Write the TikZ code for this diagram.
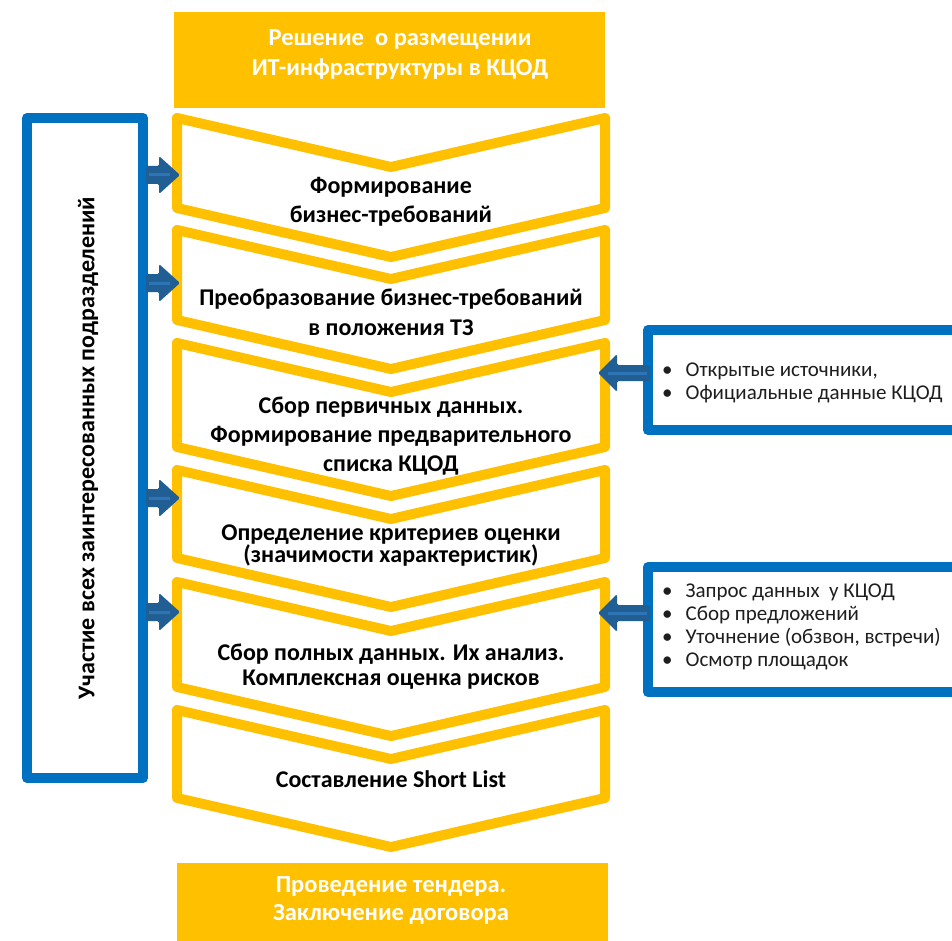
\documentclass[tikz,border=0pt]{standalone}
\usepackage{fontspec}
\setmainfont{Carlito}
\definecolor{yel}{RGB}{255,192,0}
\definecolor{bbox}{RGB}{0,112,192}
\definecolor{barrow}{RGB}{33,94,147}
\definecolor{bstripe}{RGB}{46,117,182}
\definecolor{btext}{RGB}{30,30,30}
\newcommand\chevronshape[2]{%
  \draw[chev] (177,#1) -- (391,{#1+49}) -- (605,#1) -- (605,#2) -- (391,{#2+49}) -- (177,#2) -- cycle;}
% right-pointing block arrow: base x, centre y
\newcommand\arrowR[2]{%
  \fill[blockarrow] (#1,{#2-9}) -- ({#1+13},{#2-9}) -- ({#1+13},{#2-19}) -- ({#1+34},#2) -- ({#1+13},{#2+19}) -- ({#1+13},{#2+9}) -- (#1,{#2+9}) -- cycle;
  \draw[stripe] ({#1+3},#2) -- ({#1+24},#2);}
% left-pointing block arrow: base x, centre y
\newcommand\arrowL[2]{%
  \fill[blockarrow] (#1,{#2-8}) -- ({#1-33},{#2-8}) -- ({#1-33},{#2-19}) -- ({#1-52},#2) -- ({#1-33},{#2+19}) -- ({#1-33},{#2+8}) -- (#1,{#2+8}) -- cycle;
  \draw[stripe] ({#1-3},#2) -- ({#1-42},#2);}
\begin{document}
\begin{tikzpicture}[x=1pt,y=-1pt,
  chev/.style={draw=yel, line width=10pt, fill=white, line join=round},
  lbl/.style={font=\bfseries\fontsize{24}{29}\selectfont, align=center, text=black},
  wlbl/.style={font=\bfseries\fontsize{24.5}{30}\selectfont, align=center, text=white},
  bluebox/.style={draw=bbox, line width=10pt, line join=round, fill=white},
  blockarrow/.style={fill=barrow, rounded corners=1.5pt},
  stripe/.style={draw=bstripe, line width=3pt},
  bullets/.style={font=\fontsize{21}{23}\selectfont, align=left, anchor=west, inner sep=0pt, text=btext},
  yelbox/.style={fill=yel}]
\useasboundingbox (0,0) rectangle (952,941);
\clip (0,0) rectangle (952,941);
\fill[white] (0,0) rectangle (952,941);
% top and bottom boxes
\fill[yelbox] (174,12) rectangle (605,108);
\node[wlbl] (top) at (400,55) {Решение\ \ о размещении\\ИТ-инфраструктуры в КЦОД};
\fill[yelbox] (177,863) rectangle (608,945);
\node[wlbl, font=\bfseries\fontsize{24.5}{28}\selectfont] (bottom) at (391,901) {Проведение тендера.\\Заключение договора};
% chevrons
\chevronshape{118}{208}
\chevronshape{230}{320}
\chevronshape{343}{447}
\chevronshape{470}{558}
\chevronshape{582}{687}
\chevronshape{710}{798}
\node[lbl] (s1) at (391,202) {Формирование\\бизнес-требований};
\node[lbl, font=\bfseries\fontsize{24}{30}\selectfont] (s2) at (391,312) {Преобразование бизнес-требований\\в положения ТЗ};
\node[lbl] (s3) at (391,436) {Сбор первичных данных.\\Формирование предварительного\\списка КЦОД};
\node[lbl, font=\bfseries\fontsize{24}{22}\selectfont] (s4) at (391,546) {Определение критериев оценки\\(значимости характеристик)};
\node[lbl, font=\bfseries\fontsize{24}{25}\selectfont] (s5) at (391,667) {Сбор полных данных. Их анализ.\\Комплексная оценка рисков};
\node[lbl] (s6) at (391,779) {Составление Short List};
% left box
\draw[bluebox] (27,118) rectangle (143,778);
\node[rotate=90, font=\bfseries\fontsize{24}{28}\selectfont] (side) at (88,448) {Участие всех заинтересованных подразделений};
\arrowR{146}{175}
\arrowR{146}{283}
\arrowR{146}{498}
\arrowR{146}{612}
% right boxes
\draw[bluebox] (648,330) rectangle (975,430);
\node[bullets] (r1) at (662,383) {\begin{tabular}{@{}l@{\hspace{13pt}}l@{}}\textbullet & Открытые источники,\\ \textbullet & Официальные данные КЦОД\end{tabular}};
\arrowL{650}{373}
\draw[bluebox] (648,567) rectangle (975,692);
\node[bullets] (r2) at (662,627) {\begin{tabular}{@{}l@{\hspace{13pt}}l@{}}\textbullet & Запрос данных\ \ у КЦОД\\ \textbullet & Сбор предложений\\ \textbullet & Уточнение (обзвон, встречи)\\ \textbullet & Осмотр площадок\end{tabular}};
\arrowL{650}{613}
\end{tikzpicture}
\end{document}
